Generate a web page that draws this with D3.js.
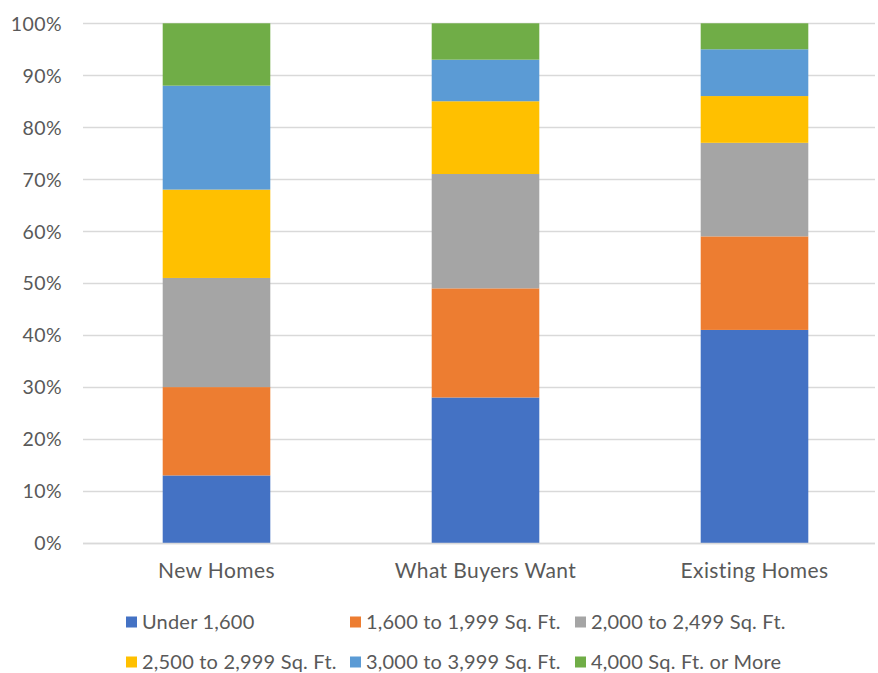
<!DOCTYPE html>
<html>
<head>
<meta charset="utf-8">
<script src="https://cdn.jsdelivr.net/npm/d3@7"></script>
<style>
  html, body { margin: 0; padding: 0; background: #fff; }
  svg { display: block; }
  text { font-family: Lato, "Open Sans", sans-serif; fill: #595959; }
</style>
</head>
<body>
<svg id="chart" width="878" height="673"></svg>
<script>
// ---- data ----
const categories = ["New Homes", "What Buyers Want", "Existing Homes"];
const seriesNames = ["Under 1,600", "1,600 to 1,999 Sq. Ft.", "2,000 to 2,499 Sq. Ft.",
                     "2,500 to 2,999 Sq. Ft.", "3,000 to 3,999 Sq. Ft.", "4,000 Sq. Ft. or More"];
const under1600   = [13, 28, 41];
const s1600_1999  = [17, 21, 18];
const s2000_2499  = [21, 22, 18];
const s2500_2999  = [17, 14, 9];
const s3000_3999  = [20, 8, 9];
const s4000plus   = [12, 7, 5];
const yTicks = [0, 10, 20, 30, 40, 50, 60, 70, 80, 90, 100];
const seriesColors = ["#4472C4", "#ED7D31", "#A5A5A5", "#FFC000", "#5B9BD5", "#70AD47"];

const seriesValues = [under1600, s1600_1999, s2000_2499, s2500_2999, s3000_3999, s4000plus];
const table = categories.map((c, i) => {
  const row = { category: c };
  seriesNames.forEach((s, j) => row[s] = seriesValues[j][i]);
  return row;
});

// ---- layout ----
const svg = d3.select("#chart");
const plot = { left: 82, right: 889, top: 23.3, bottom: 543 };

const x = d3.scaleBand().domain(categories).range([plot.left, plot.right]).paddingInner(0.6).paddingOuter(0.3);
const y = d3.scaleLinear().domain([0, 100]).range([plot.bottom, plot.top]);

// gridlines
svg.append("g").selectAll("line").data(yTicks).join("line")
  .attr("x1", 83).attr("x2", 875)
  .attr("y1", d => Math.round(y(d)) + 0.5).attr("y2", d => Math.round(y(d)) + 0.5)
  .attr("stroke", "#d9d9d9").attr("stroke-width", 1.3);

// y tick labels
const yAxis = d3.axisLeft(y).tickValues(yTicks).tickFormat(d => d + "%").tickSize(0).tickPadding(0);
const yg = svg.append("g").attr("transform", "translate(62,0)").call(yAxis);
yg.select(".domain").remove();
yg.selectAll("text").style("font-size", "19.5px").style("letter-spacing", "0.4px").attr("fill", "#595959")
  .style("font-family", "Lato, sans-serif").attr("dy", "0.35em");

// stacked bars
const stack = d3.stack().keys(seriesNames)(table);
svg.append("g").selectAll("g").data(stack).join("g")
  .attr("fill", (d, i) => seriesColors[i])
  .selectAll("rect").data(d => d).join("rect")
  .attr("x", d => x(d.data.category))
  .attr("width", x.bandwidth())
  .attr("y", d => y(d[1]))
  .attr("height", d => y(d[0]) - y(d[1]));

// x axis baseline
svg.append("line").attr("x1", 83).attr("x2", 875)
  .attr("y1", 543.5).attr("y2", 543.5).attr("stroke", "#d9d9d9").attr("stroke-width", 1.3);

// x labels
const xAxis = d3.axisBottom(x).tickSize(0).tickPadding(0);
const xg = svg.append("g").call(xAxis);
xg.select(".domain").remove();
xg.selectAll(".tick text").attr("y", 578).attr("dy", 0)
  .style("font-size", "21px").style("letter-spacing", "0.4px")
  .attr("fill", "#595959").style("font-family", "Lato, sans-serif");

// legend
const legCols = [126, 350, 575];
const legRows = [622, 662];
const leg = svg.append("g").selectAll("g").data(seriesNames).join("g")
  .attr("transform", (d, i) => `translate(${legCols[i % 3]},${legRows[Math.floor(i / 3)]})`);
leg.append("rect").attr("x", 0).attr("y", -5.5).attr("width", 11).attr("height", 11)
  .attr("fill", (d, i) => seriesColors[i]);
leg.append("text").attr("x", 16).attr("y", 7).text(d => d)
  .style("font-size", "20px").style("letter-spacing", "0.2px");
</script>
</body>
</html>
